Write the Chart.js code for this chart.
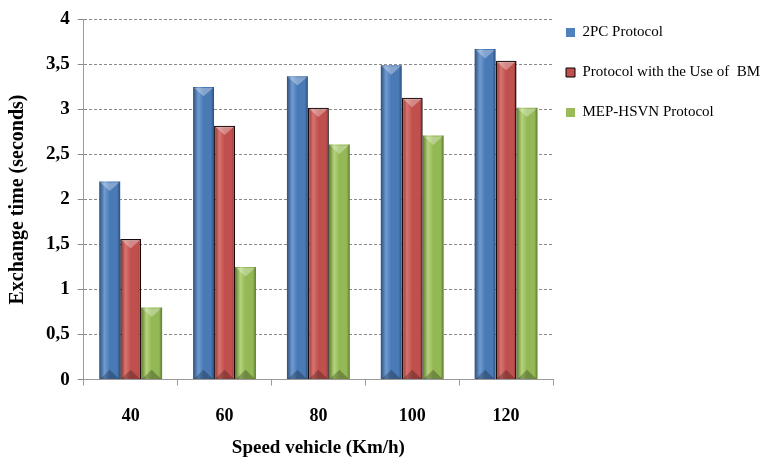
<!DOCTYPE html>
<html>
<head>
<meta charset="utf-8">
<script src="https://cdn.jsdelivr.net/npm/chart.js@4.4.1/dist/chart.umd.min.js"></script>
<style>
  html,body{margin:0;padding:0;background:#fff;}
  #wrap{width:778px;height:459px;position:relative;}
</style>
</head>
<body>
<div id="wrap"><canvas id="ch"></canvas></div>
<script>
const speeds   = ['40','60','80','100','120'];
const twoPC    = [2.2, 3.25, 3.37, 3.49, 3.67];
const withBM   = [1.56, 2.82, 3.02, 3.13, 3.54];
const mepHsvn  = [0.8, 1.25, 2.61, 2.71, 3.02];
const yTicks   = [0, 0.5, 1, 1.5, 2, 2.5, 3, 3.5, 4];

const CAT_PCT = 0.67;
const SERIF = '"Liberation Serif","Times New Roman",serif';
const LEG_COL = ['#4f81bd','#c0504d','#9bbb59'];

// horizontal shading so the bars look rounded like the original
function shade(base, dark, light) {
  return ctx => {
    const ch = ctx.chart, xs = ch.scales && ch.scales.x;
    if (!ch.chartArea || !xs || ctx.dataIndex === undefined) return base;
    const cw = xs.width / speeds.length, gw = cw * CAT_PCT, bw = gw / 3;
    const cx = xs.getPixelForValue(ctx.dataIndex) - gw/2 + (ctx.datasetIndex + .5) * bw;
    const g = ch.ctx.createLinearGradient(cx - bw/2, 0, cx + bw/2, 0);
    g.addColorStop(0, dark); g.addColorStop(.25, light); g.addColorStop(.5, base);
    g.addColorStop(.85, base); g.addColorStop(1, dark);
    return g;
  };
}

// bevel on top / bottom of each bar, from the bar elements themselves
const bevel = {
  id:'bevel',
  afterDatasetsDraw(ch){
    const c = ch.ctx;
    ch.data.datasets.forEach((d,di) => {
      ch.getDatasetMeta(di).data.forEach(b => {
        const { x, y, base, width } = b.getProps(['x','y','base','width'], true);
        const l = x - width/2 + 1, r = x + width/2 - 1, h = width * 0.45;
        c.save();
        c.fillStyle = 'rgba(255,255,255,.32)';
        c.beginPath(); c.moveTo(l, y+1); c.lineTo(r, y+1); c.lineTo(x, y+h); c.closePath(); c.fill();
        c.fillStyle = 'rgba(0,0,0,.25)';
        c.beginPath(); c.moveTo(l, base); c.lineTo(x, base-h); c.lineTo(r, base); c.closePath(); c.fill();
        c.restore();
      });
    });
  },
  afterLayout(ch){ if (ch.legend) { ch.legend.left -= 12; ch.legend.right -= 12; } },
};

new Chart(document.getElementById('ch'), {
  type: 'bar',
  data: {
    labels: speeds,
    datasets: [
      { label:'2PC Protocol', data:twoPC, backgroundColor:shade('#4a7ab5','#2c4f7c','#6f9bd1'), borderWidth:0 },
      { label:'Protocol with the Use of  BM', data:withBM, backgroundColor:shade('#c0504d','#7e2f2d','#d9736f'), borderColor:'#1a0a0a', borderWidth:1.5 },
      { label:'MEP-HSVN Protocol', data:mepHsvn, backgroundColor:shade('#94b856','#5e7a30','#b5d37a'), borderWidth:0 },
    ],
  },
  options: {
    responsive:true, maintainAspectRatio:false, animation:false,
    datasets:{ bar:{ categoryPercentage:CAT_PCT, barPercentage:1.0 } },
    layout:{ padding:{ top:0, left:6, right:0, bottom:0 } },
    plugins:{
      legend:{ position:'right', align:'start', maxWidth:225,
        labels:{ boxWidth:9, boxHeight:9, padding:25, color:'#000',
          font:{ family:SERIF, size:15 },
          generateLabels: ch => ch.data.datasets.map((d,i)=>({
            text:d.label, fillStyle:LEG_COL[i],
            strokeStyle:i===1?'#000':LEG_COL[i], lineWidth:i===1?1:0, datasetIndex:i, hidden:false })) } },
      tooltip:{ enabled:false },
    },
    scales:{
      y:{ min:0, max:4, afterBuildTicks: ax => { ax.ticks = yTicks.map(v=>({ value:v })); },
        ticks:{ color:'#000', padding:8, font:{ family:SERIF, size:19, weight:'bold' },
          callback:v => String(v).replace('.', ',') },
        grid:{ color:'#8a8a8a', lineWidth:1, drawTicks:true, tickLength:6, tickBorderDash:[] },
        border:{ display:true, color:'#9a9a9a', dash:[3,2] },
        title:{ display:true, text:'Exchange time (seconds)', color:'#000',
          font:{ family:SERIF, size:20, weight:'bold' }, padding:{ top:0, bottom:8 } } },
      x:{ ticks:{ color:'#000', padding:20, font:{ family:SERIF, size:18, weight:'bold' } },
        grid:{ offset:true, drawOnChartArea:false, color:'#9a9a9a', tickLength:6 },
        border:{ color:'#9a9a9a' },
        title:{ display:true, text:'Speed vehicle (Km/h)', color:'#000',
          font:{ family:SERIF, size:19, weight:'bold' }, padding:{ top:-11, bottom:0 } } },
    },
  },
  plugins:[bevel],
});
</script>
</body>
</html>
